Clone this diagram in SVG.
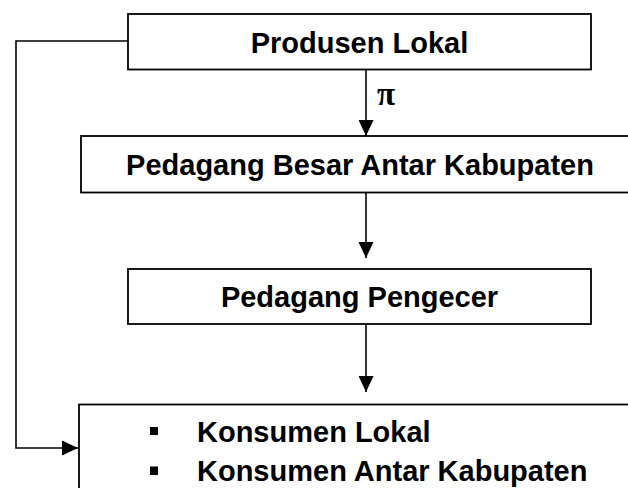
<svg xmlns="http://www.w3.org/2000/svg" width="628" height="488" viewBox="0 0 628 488">
<style>
  .box { fill: #fff; stroke: #000; stroke-width: 1.8; }
  .lbl { font-family: "Liberation Sans", Arial, sans-serif; font-weight: bold; font-size: 29px; fill: #000; }
  .conn { fill: none; stroke: #000; stroke-width: 1.6; }
  .sym { font-family: "Liberation Serif", "Times New Roman", serif; font-weight: bold; font-size: 33px; fill: #000; }
</style>
<defs>
  <marker id="ah" markerUnits="userSpaceOnUse" markerWidth="17" markerHeight="17" viewBox="0 0 17 17" refX="16" refY="8.5" orient="auto">
    <path d="M0,1 L16,8.5 L0,16 Z" fill="#000"/>
  </marker>
</defs>
<rect width="628" height="488" fill="#fff"/>
<g id="connectors">
  <line class="conn" x1="366" y1="70" x2="366" y2="136" marker-end="url(#ah)"/>
  <line class="conn" x1="366" y1="193" x2="366" y2="258" marker-end="url(#ah)"/>
  <line class="conn" x1="366" y1="324" x2="366" y2="392" marker-end="url(#ah)"/>
  <polyline class="conn" points="128,41 16,41 16,448 78,448" marker-end="url(#ah)"/>
  <text class="sym" x="377" y="105">π</text>
</g>
<g id="produsen-lokal">
  <rect class="box" x="128" y="14" width="463" height="55.5"/>
  <text class="lbl" x="359.5" y="52.5" text-anchor="middle">Produsen Lokal</text>
</g>
<g id="pedagang-besar">
  <rect class="box" x="81" y="136" width="560" height="56.5"/>
  <text class="lbl" x="360" y="174.5" text-anchor="middle">Pedagang Besar Antar Kabupaten</text>
</g>
<g id="pedagang-pengecer">
  <rect class="box" x="128" y="269" width="463" height="55"/>
  <text class="lbl" x="359.5" y="307" text-anchor="middle">Pedagang Pengecer</text>
</g>
<g id="konsumen">
  <rect class="box" x="79" y="404.5" width="570" height="100"/>
  <rect x="150" y="427" width="8" height="8" fill="#000"/>
  <text class="lbl" x="197" y="442">Konsumen Lokal</text>
  <rect x="150" y="466.5" width="8" height="8.5" fill="#000"/>
  <text class="lbl" x="197" y="481">Konsumen Antar Kabupaten</text>
</g>
</svg>
